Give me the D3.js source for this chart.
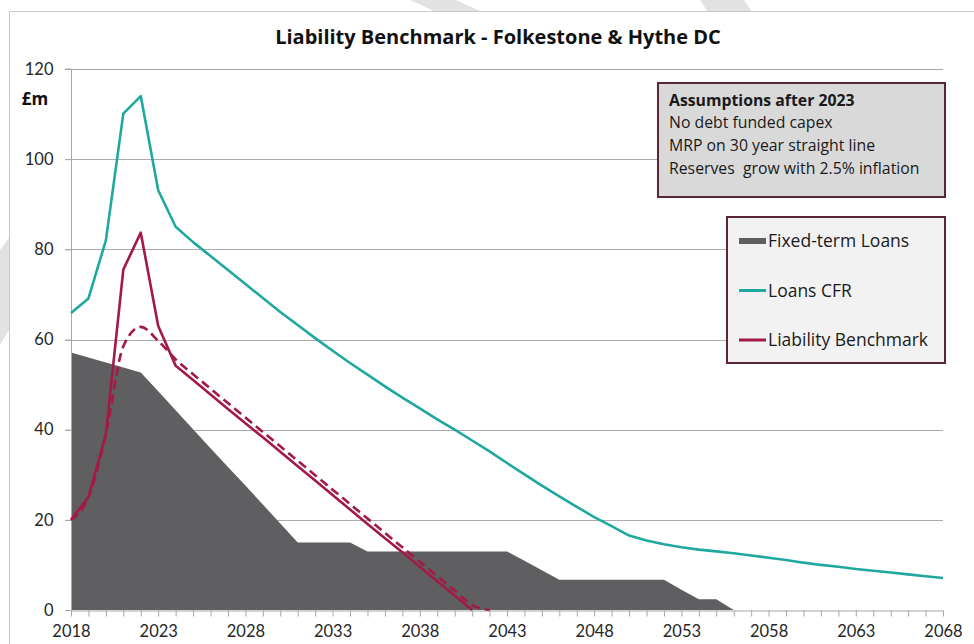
<!DOCTYPE html>
<html>
<head>
<meta charset="utf-8">
<script src="https://cdn.jsdelivr.net/npm/d3@7"></script>
<style>
  body { margin: 0; background: #fff; }
  svg { display: block; font-family: "Open Sans", Lato, sans-serif; }
  .axis path, .axis line { stroke: #a6a6a6; }
  .axis text { fill: #262626; font-size: 16.5px; font-family: Lato, sans-serif; }
</style>
</head>
<body>
<div id="chart"></div>
<script>
const years = d3.range(2018, 2069);

const loansCFR = [
  65.9, 69.1, 82, 110.1, 114, 93.1, 85, 81.6, 78.5, 75.4,
  72.3, 69.2, 66.1, 63.2, 60.3, 57.5, 54.8, 52.2, 49.6, 47.1,
  44.7, 42.3, 40.0, 37.6, 35.2, 32.6, 30.1, 27.6, 25.2, 22.9,
  20.6, 18.6, 16.5, 15.4, 14.6, 13.9, 13.4, 13.0, 12.6, 12.1,
  11.6, 11.1, 10.5, 10.0, 9.6, 9.1, 8.7, 8.3, 7.9, 7.5, 7.1,
];

const fixedTermLoans = [
  57.1, 56.0, 54.9, 53.8, 52.7, 48.5, 44.3, 40.1, 35.9, 31.7,
  27.6, 23.4, 19.2, 15.0, 15.0, 15.0, 15.0, 13.0, 13.0, 13.0,
  13.0, 13.0, 13.0, 13.0, 13.0, 13.0, 10.9, 8.8, 6.7, 6.7,
  6.7, 6.7, 6.7, 6.7, 6.7, 4.5, 2.4, 2.4, 0, 0,
  0, 0, 0, 0, 0, 0, 0, 0, 0, 0, 0,
];

// 2018 - 2041
const liabilityBenchmark = [
  20, 25, 39, 75.5, 83.7, 63, 54.2, 51.0, 47.8, 44.6,
  41.4, 38.3, 35.1, 31.9, 28.7, 25.5, 22.3, 19.1, 15.9, 12.8,
  9.6, 6.4, 3.2, 0,
];

// 2018 - 2042, dashed variant (not in legend)
const benchmarkDashed = [
  20, 25, 39, 58.5, 62.8, 59.7, 55.6, 52.3, 49.1, 45.9,
  42.7, 39.5, 36.3, 33.1, 29.9, 26.7, 23.5, 20.3, 17.1, 13.9,
  10.7, 7.5, 4.3, 1.1, 0,
];

const yTicks = [0, 20, 40, 60, 80, 100, 120];
const xLabelYears = [2018, 2023, 2028, 2033, 2038, 2043, 2048, 2053, 2058, 2063, 2068];

const assumptionLines = [
  "Assumptions after 2023",
  "No debt funded capex",
  "MRP on 30 year straight line",
  "Reserves  grow with 2.5% inflation",
];
const legendItems = ["Fixed-term Loans", "Loans CFR", "Liability Benchmark"];

const colors = {
  area: "#5f5f61",
  cfr: "#1fa89f",
  bench: "#a31a44",
  boxEdge: "#5b2535",
};

const width = 974;
const height = 644;
const plotLeft = 71, plotRight = 943, plotTop = 69, plotBottom = 610;

const svg = d3.select("#chart").append("svg")
  .attr("width", width)
  .attr("height", height);

// faint watermark pieces outside the chart frame
svg.append("path")
  .attr("d", "M410,0 L456,0 L482,12 L436,12 Z M700,0 L744,0 L752,12 L708,12 Z M0,250 L9,238 L9,330 L0,345 Z")
  .attr("fill", "#e2e2e2");

svg.append("rect")
  .attr("x", 9.5).attr("y", 11.5)
  .attr("width", 980).attr("height", 650)
  .attr("fill", "#fff")
  .attr("stroke", "#c9c9c9");

const x = d3.scaleLinear().domain([2018, 2068]).range([plotLeft, plotRight]);
const y = d3.scaleLinear().domain([0, 120]).range([plotBottom, plotTop]);

// gridlines
svg.append("g")
  .selectAll("line")
  .data(yTicks.filter((d) => d > 0))
  .join("line")
  .attr("x1", plotLeft - 6)
  .attr("x2", plotRight)
  .attr("y1", (d) => Math.round(y(d)) + 0.5)
  .attr("y2", (d) => Math.round(y(d)) + 0.5)
  .attr("stroke", "#ababab");

// fixed-term loans area
const area = d3.area()
  .x((d, i) => x(years[i]))
  .y0(y(0))
  .y1((d) => y(d));

svg.append("path")
  .attr("d", area(fixedTermLoans))
  .attr("fill", colors.area);

// axes
const axisY = svg.append("g")
  .attr("class", "axis")
  .attr("transform", `translate(${plotLeft + 0.5},0)`)
  .call(d3.axisLeft(y).tickValues(yTicks).tickSize(6).tickPadding(12));
axisY.select(".domain").attr("d", `M-6,${plotTop}H0V${plotBottom}`);

const axisX = svg.append("g")
  .attr("class", "axis")
  .attr("transform", `translate(0,${plotBottom + 0.5})`)
  .call(
    d3.axisBottom(x)
      .tickValues(years)
      .tickSize(6)
      .tickPadding(6)
      .tickFormat((d) => (xLabelYears.includes(d) ? d : ""))
      .tickSizeOuter(0)
  );
axisX.selectAll("text").attr("dy", "0.85em");

svg.append("text")
  .attr("x", 35).attr("y", 105)
  .attr("text-anchor", "middle")
  .attr("font-size", 17)
  .attr("font-weight", 700)
  .attr("fill", "#111")
  .text("£m");

// lines
const line = d3.line()
  .x((d, i) => x(years[i]))
  .y((d) => y(d));

svg.append("path")
  .attr("d", line.curve(d3.curveMonotoneX)(benchmarkDashed))
  .attr("fill", "none")
  .attr("stroke", colors.bench)
  .attr("stroke-width", 2.6)
  .attr("stroke-dasharray", "9,5");

line.curve(d3.curveLinear);

svg.append("path")
  .attr("d", line(loansCFR))
  .attr("fill", "none")
  .attr("stroke", colors.cfr)
  .attr("stroke-width", 2.6)
  .attr("stroke-linejoin", "round");

svg.append("path")
  .attr("d", line(liabilityBenchmark))
  .attr("fill", "none")
  .attr("stroke", colors.bench)
  .attr("stroke-width", 2.6)
  .attr("stroke-linejoin", "round");

// title
svg.append("text")
  .attr("x", 498).attr("y", 44)
  .attr("text-anchor", "middle")
  .attr("font-size", 20)
  .attr("font-weight", 700)
  .attr("fill", "#111")
  .text("Liability Benchmark - Folkestone & Hythe DC");

// assumptions box
const note = svg.append("g");
note.append("rect")
  .attr("x", 658).attr("y", 83)
  .attr("width", 287).attr("height", 114)
  .attr("fill", "#d9d9d9")
  .attr("stroke", colors.boxEdge)
  .attr("stroke-width", 2);
note.selectAll("text")
  .data(assumptionLines)
  .join("text")
  .attr("x", 669)
  .attr("y", (d, i) => 105.5 + i * 22.7)
  .attr("font-size", 15.8)
  .attr("font-weight", (d, i) => (i === 0 ? 700 : 400))
  .attr("fill", "#1a1a1a")
  .attr("xml:space", "preserve")
  .style("white-space", "pre")
  .text((d) => d);

// legend
const legend = svg.append("g");
legend.append("rect")
  .attr("x", 727).attr("y", 217)
  .attr("width", 218).attr("height", 146)
  .attr("fill", "#f2f2f2")
  .attr("stroke", colors.boxEdge)
  .attr("stroke-width", 2);

const legendRows = legend.selectAll("g")
  .data(legendItems)
  .join("g")
  .attr("transform", (d, i) => `translate(739,${241 + i * 49.5})`);

legendRows.each(function (d, i) {
  const row = d3.select(this);
  if (i === 0) {
    row.append("rect")
      .attr("x", 0).attr("y", -3)
      .attr("width", 27).attr("height", 6)
      .attr("fill", colors.area);
  } else {
    row.append("line")
      .attr("x1", 0).attr("x2", 27)
      .attr("stroke", i === 1 ? colors.cfr : colors.bench)
      .attr("stroke-width", 3);
  }
  row.append("text")
    .attr("x", 29)
    .attr("y", 6)
    .attr("font-size", 17.5)
    .attr("fill", "#1a1a1a")
    .text(d);
});
</script>
</body>
</html>
